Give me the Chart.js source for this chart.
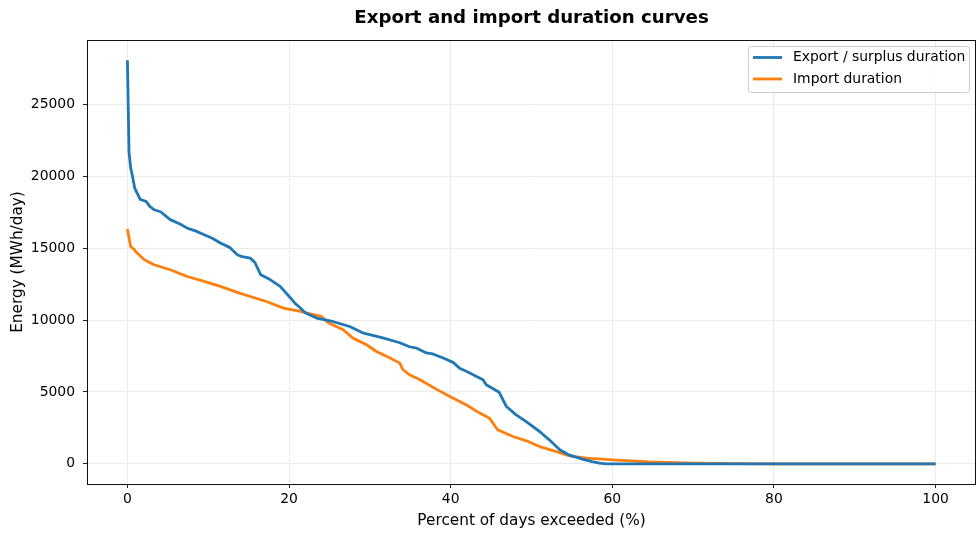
<!DOCTYPE html>
<html><head><meta charset="utf-8">
<script src="https://cdn.jsdelivr.net/npm/chart.js@4.4.1/dist/chart.umd.min.js"></script>
<style>html,body{margin:0;padding:0;background:#fff}#wrap{width:977px;height:533px;position:relative}</style>
</head><body><div id="wrap"><canvas id="c" width="977" height="533"></canvas></div>
<script>
// ---- data ----
const exportPct = [0, 0.2, 0.4, 0.6, 0.9, 1.2, 1.6, 2.3, 2.8, 3.3, 4.1, 5.3, 6.5, 7.4, 8.5, 9.5, 10.5, 11.5, 12.7, 13.6, 14.2, 15.2, 15.8, 16.0, 16.5, 17.7, 18.9, 20.1, 20.7, 21.4, 22.0, 23.4, 25.4, 27.5, 29.1, 31.6, 33.7, 34.9, 35.8, 37.0, 37.8, 39.0, 40.3, 41.1, 42.0, 43.2, 44.0, 44.4, 46.0, 46.9, 48.1, 49.3, 51.0, 52.2, 53.5, 54.7, 56.3, 57.5, 58.4, 59.3, 70, 80, 90, 100];
const exportVals = [28100, 21700, 20600, 20100, 19200, 18850, 18400, 18270, 17900, 17690, 17550, 17000, 16700, 16410, 16200, 15950, 15700, 15370, 15050, 14550, 14420, 14320, 14000, 13740, 13160, 12810, 12350, 11600, 11200, 10850, 10515, 10146, 9910, 9561, 9123, 8774, 8430, 8150, 8050, 7720, 7650, 7380, 7060, 6660, 6430, 6080, 5850, 5500, 4980, 3990, 3410, 2950, 2250, 1670, 975, 600, 330, 150, 50, 0, 0, 0, 0, 0];
const importPct = [0, 0.4, 0.8, 1.2, 2.1, 3.3, 5.3, 7.4, 9.5, 11.5, 13.5, 15.2, 17.2, 19.3, 21.4, 22.5, 24.0, 24.9, 26.7, 27.9, 29.6, 30.8, 32.5, 33.7, 34.1, 34.9, 36.2, 38.2, 39.9, 41.9, 43.6, 44.8, 45.8, 47.7, 49.3, 51.0, 53.0, 54.7, 56.8, 60, 64.6, 70, 75, 80, 100];
const importVals = [16350, 15130, 14950, 14670, 14200, 13860, 13510, 13040, 12700, 12350, 11950, 11650, 11300, 10840, 10610, 10450, 10260, 9800, 9330, 8750, 8290, 7820, 7360, 7010, 6550, 6200, 5850, 5200, 4690, 4110, 3530, 3180, 2370, 1900, 1620, 1200, 860, 557, 400, 280, 140, 50, 10, 0, 0];
const xTicks = [0, 20, 40, 60, 80, 100];
const yTicks = [0, 5000, 10000, 15000, 20000, 25000];
const seriesLabels = ['Export / surplus duration', 'Import duration'];
const titleText = 'Export and import duration curves';
const xTitle = 'Percent of days exceeded (%)';
const yTitle = 'Energy (MWh/day)';

const FONT = 'DejaVu Sans';
const LW = 2.8;
const toPts = (xs, ys) => xs.map((x, i) => ({x: x, y: ys[i]}));

const decor = {
  id: 'decor',
  afterDraw(chart) {
    const ctx = chart.ctx, a = chart.chartArea;
    ctx.save();
    // spines
    ctx.strokeStyle = '#111';
    ctx.lineWidth = 1;
    ctx.strokeRect(Math.round(a.left) + 0.5, Math.round(a.top) + 0.5, Math.round(a.right - a.left) - 1, Math.round(a.bottom - a.top));
    // title
    ctx.fillStyle = '#000';
    ctx.font = 'bold 18.2px "' + FONT + '"';
    ctx.textAlign = 'center';
    ctx.textBaseline = 'middle';
    ctx.fillText(titleText, (a.left + a.right) / 2, 18);
    // legend
    const bx = 748.5, by = 46.5, bw = 221, bh = 46, r = 3;
    ctx.beginPath();
    ctx.moveTo(bx + r, by);
    ctx.lineTo(bx + bw - r, by); ctx.quadraticCurveTo(bx + bw, by, bx + bw, by + r);
    ctx.lineTo(bx + bw, by + bh - r); ctx.quadraticCurveTo(bx + bw, by + bh, bx + bw - r, by + bh);
    ctx.lineTo(bx + r, by + bh); ctx.quadraticCurveTo(bx, by + bh, bx, by + bh - r);
    ctx.lineTo(bx, by + r); ctx.quadraticCurveTo(bx, by, bx + r, by);
    ctx.closePath();
    ctx.fillStyle = 'rgba(255,255,255,0.8)';
    ctx.fill();
    ctx.strokeStyle = '#cccccc';
    ctx.stroke();
    ctx.font = '13.9px "' + FONT + '"';
    ctx.textAlign = 'left';
    chart.data.datasets.forEach((ds, i) => {
      const y = 57.5 + i * 21.5;
      ctx.strokeStyle = ds.borderColor;
      ctx.lineWidth = LW;
      ctx.beginPath(); ctx.moveTo(753, y); ctx.lineTo(782, y); ctx.stroke();
      ctx.fillStyle = '#000';
      ctx.fillText(ds.label, 793, y);
    });
    ctx.restore();
  }
};

new Chart(document.getElementById('c'), {
  type: 'line',
  data: {
    datasets: [
      {label: seriesLabels[0], data: toPts(exportPct, exportVals), borderColor: '#1f77b4', backgroundColor: '#1f77b4', borderWidth: LW, pointRadius: 0, tension: 0, fill: false, borderJoinStyle: 'round'},
      {label: seriesLabels[1], data: toPts(importPct, importVals), borderColor: '#ff7f0e', backgroundColor: '#ff7f0e', borderWidth: LW, pointRadius: 0, tension: 0, fill: false, borderJoinStyle: 'round'}
    ]
  },
  options: {
    responsive: false,
    animation: false,
    devicePixelRatio: 1,
    layout: {padding: {top: 40, right: 1, left: 0, bottom: 0}},
    plugins: {legend: {display: false}, title: {display: false}, tooltip: {enabled: false}},
    scales: {
      x: {
        type: 'linear', min: -5, max: 105,
        afterBuildTicks: s => { s.ticks = xTicks.map(v => ({value: v})); },
        afterFit: s => { s.height = 49; },
        grid: {color: '#ebebeb', lineWidth: 1, tickLength: 4, tickColor: '#222', drawTicks: true},
        border: {display: false},
        ticks: {font: {family: FONT, size: 13.9}, color: '#000', padding: 3, maxRotation: 0, callback: v => String(v)},
        title: {display: true, text: xTitle, font: {family: FONT, size: 15.3}, color: '#000', padding: {top: 0, bottom: 3}}
      },
      y: {
        type: 'linear', min: -1405, max: 29505,
        afterBuildTicks: s => { s.ticks = yTicks.map(v => ({value: v})); },
        afterFit: s => { s.width = 87; },
        grid: {color: '#ebebeb', lineWidth: 1, tickLength: 4, tickColor: '#222', drawTicks: true},
        border: {display: false},
        ticks: {font: {family: FONT, size: 13.9}, color: '#000', padding: 8, callback: v => String(v)},
        title: {display: true, text: yTitle, font: {family: FONT, size: 15.3}, color: '#000', padding: {top: 9, bottom: 0}}
      }
    }
  },
  plugins: [decor]
});
</script></body></html>
